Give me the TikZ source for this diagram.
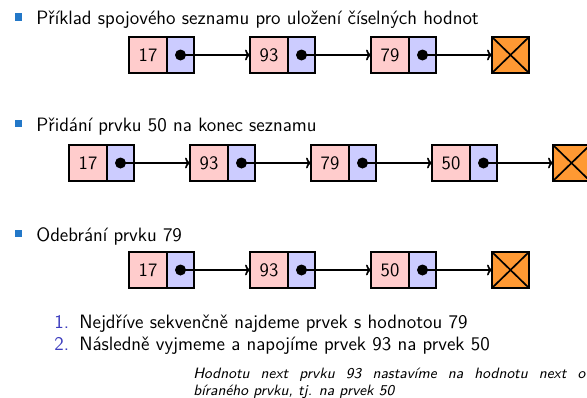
\documentclass[tikz,border=0pt]{standalone}
\usepackage{fontspec}
\renewcommand{\familydefault}{\sfdefault}
\usetikzlibrary{arrows.meta}
\definecolor{pinkc}{RGB}{255,204,204}
\definecolor{bluec}{RGB}{204,204,255}
\definecolor{orangec}{RGB}{255,153,51}
\definecolor{bulletc}{RGB}{35,120,200}
\definecolor{enumc}{RGB}{60,60,190}
\def\pxu{0.6pt}
\tikzset{
  valbox/.style={draw, line width=1.1pt, fill=pinkc, anchor=west, outer sep=0pt, inner sep=0pt,
    minimum width={38*\pxu}, minimum height={36*\pxu}, font=\fontsize{11.4}{13}\selectfont},
  ptrbox/.style={draw, line width=1.1pt, fill=bluec, anchor=west, outer sep=0pt, inner sep=0pt,
    minimum width={27*\pxu}, minimum height={36*\pxu}},
  dotc/.style={circle, fill=black, inner sep=0pt, minimum size={11*\pxu}},
  nilbox/.style={draw, line width=1.1pt, fill=orangec, anchor=west, outer sep=0pt, inner sep=0pt,
    minimum width={37*\pxu}, minimum height={36*\pxu}},
  link/.style={line width=1pt, -{To[length=3pt,width=6.5pt]}},
  itemtext/.style={anchor=base west, inner sep=0pt, font=\fontsize{11.6}{13}\selectfont},
  enumnum/.style={anchor=base west, inner sep=0pt, text=enumc, font=\fontsize{11.6}{13}\selectfont},
  notetext/.style={anchor=base west, inner sep=0pt, font=\fontsize{9}{11}\selectfont\itshape},
  bulletsq/.style={fill=bulletc}
}
\newcommand{\llnode}[4]{%
  \node[valbox] (#1v) at (#2,#3) {#4};
  \node[ptrbox] (#1p) at (#1v.east) {};
  \node[dotc] (#1d) at (#1p.center) {};
}
\newcommand{\nilnode}[3]{%
  \node[nilbox] (#1) at (#2,#3) {};
  \draw[line width=1pt] (#1.north west) -- (#1.south east) (#1.north east) -- (#1.south west);
}
\begin{document}
\begin{tikzpicture}[x=0.6pt, y=-0.6pt]
\useasboundingbox (0,0) rectangle (587,398);
\clip (0,0) rectangle (587,398);
\fill[white] (0,0) rectangle (587,398);

% heading 1
\fill[bulletsq] (15,13) rectangle (22,21);
\node[itemtext] (h1) at (36,25) {Příklad spojového seznamu pro uložení číselných hodnot};
\llnode{a}{129}{55}{17}
\llnode{b}{250}{55}{93}
\llnode{c}{371}{55}{79}
\nilnode{an}{492}{55}
\draw[link] (ad.center) -- (bv.west);
\draw[link] (bd.center) -- (cv.west);
\draw[link] (cd.center) -- (an.west);

% heading 2
\fill[bulletsq] (15,120) rectangle (22,127);
\node[itemtext] (h2) at (36,131) {Přidání prvku 50 na konec seznamu};
\llnode{d}{69}{163}{17}
\llnode{e}{190}{163}{93}
\llnode{f}{311}{163}{79}
\llnode{g}{432}{163}{50}
\nilnode{dn}{553}{163}
\draw[link] (dd.center) -- (ev.west);
\draw[link] (ed.center) -- (fv.west);
\draw[link] (fd.center) -- (gv.west);
\draw[link] (gd.center) -- (dn.west);

% heading 3
\fill[bulletsq] (15,230) rectangle (22,237);
\node[itemtext] (h3) at (36,241) {Odebrání prvku 79};
\llnode{k}{129}{270}{17}
\llnode{l}{250}{270}{93}
\llnode{m}{371}{270}{50}
\nilnode{kn}{492}{270}
\draw[link] (kd.center) -- (lv.west);
\draw[link] (ld.center) -- (mv.west);
\draw[link] (md.center) -- (kn.west);

% enumerate
\node[enumnum] (n1) at (54,328) {1.};
\node[itemtext] (t1) at (79,328) {Nejdříve sekvenčně najdeme prvek s hodnotou 79};
\node[enumnum] (n2) at (54,350) {2.};
\node[itemtext] (t2) at (79,350) {Následně vyjmeme a napojíme prvek 93 na prvek 50};

% note
\node[notetext] (p1) at (193,378) {\makebox[235.2pt][s]{Hodnotu next prvku 93 nastavíme na hodnotu next o}};
\node[notetext] (p2) at (193,395) {bíraného prvku, tj. na prvek 50};
\end{tikzpicture}
\end{document}
